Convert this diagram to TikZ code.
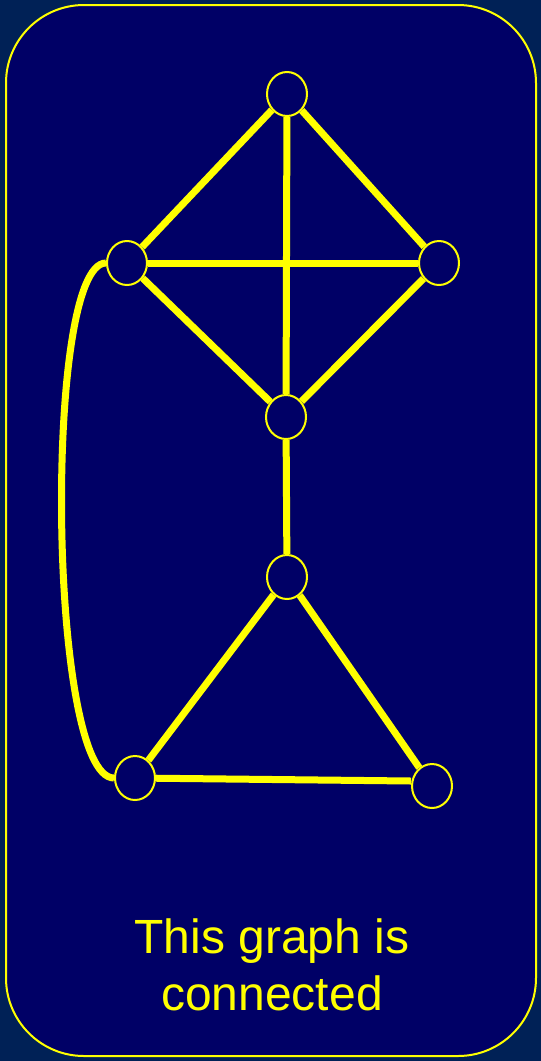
\documentclass[tikz,border=0pt]{standalone}
\usepackage{fontspec}
\setmainfont{Liberation Sans}
\usetikzlibrary{shapes.geometric}

\definecolor{slidebg}{RGB}{0,33,86}
\definecolor{panelbg}{RGB}{0,0,102}
\definecolor{graphyellow}{RGB}{255,255,0}

\tikzset{
    vertex/.style={ellipse, draw=graphyellow, line width=2pt, fill=panelbg,
        minimum width=40pt, minimum height=44pt, inner sep=0pt},
    edge/.style={graphyellow, line width=7pt}
}

\begin{document}
\begin{tikzpicture}[x=1pt, y=-1pt]
    % slide and panel
    \fill[slidebg] (0,0) rectangle (541,1061);
    \draw[graphyellow, line width=2pt, fill=panelbg, rounded corners=78pt] (6,5) rectangle (536,1056);

    % vertices
    \node[vertex] (top) at (287,94) {};
    \node[vertex] (left) at (127,263) {};
    \node[vertex] (right) at (439,263) {};
    \node[vertex] (mid) at (286,417) {};
    \node[vertex] (low) at (287,577) {};
    \node[vertex] (botleft) at (135,778) {};
    \node[vertex] (botright) at (432,786) {};

    % edges
    \draw[edge] (top) -- (left);
    \draw[edge] (top) -- (right);
    \draw[edge] (top) -- (mid);
    \draw[edge] (left) -- (right);
    \draw[edge] (left) -- (mid);
    \draw[edge] (right) -- (mid);
    \draw[edge] (mid) -- (low);
    \draw[edge] (low) -- (botleft);
    \draw[edge] (low) -- (botright);
    \draw[edge] (botleft) -- ([yshift=5pt]botright.west);
    \draw[edge] (left) .. controls ([xshift=-84pt]left.center) and ([xshift=-87pt]botleft.center) .. (botleft);

    % caption
    \node[graphyellow, font=\fontsize{48pt}{57pt}\selectfont, align=center] (caption) at (272,965) {This graph is\\connected};
\end{tikzpicture}
\end{document}
